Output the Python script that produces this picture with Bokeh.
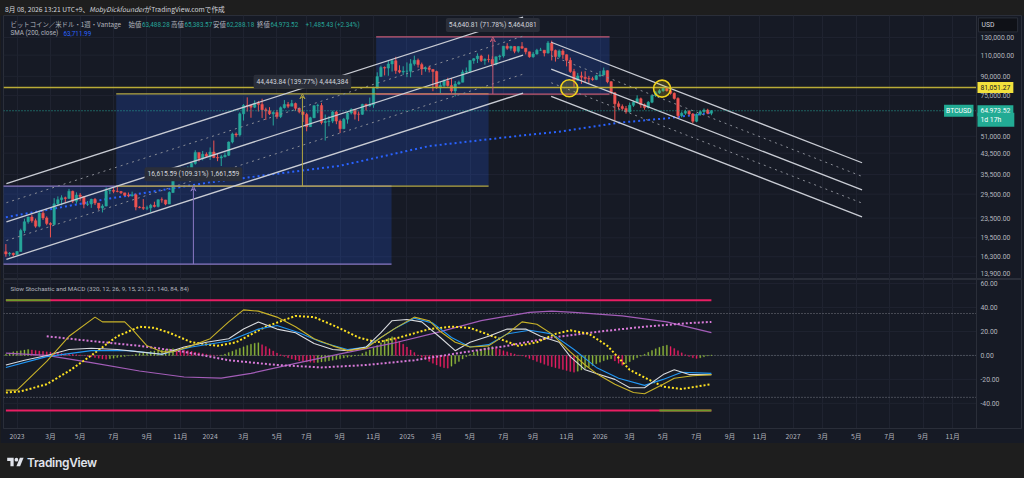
import pandas as pd
from bokeh.plotting import figure
from bokeh.models import (ColumnDataSource, Range1d, FixedTicker, NumeralTickFormatter,
                          Label, Arrow, VeeHead, Div)
from bokeh.layouts import column
from bokeh.embed import file_html
from bokeh.resources import INLINE

# ---------------- data (weekly candles, BTCUSD) ----------------
FIRST_WEEK = "2022-12-12"
FIRST_OPEN = 17100.0
LAST_OPEN = 63488.28
CLOSE = [16750, 16840, 16620, 17130, 20880, 22710, 23740, 22930, 21780, 24630,
         23550, 22350, 22140, 26900, 27990, 28470, 28330, 30300, 27590, 29230,
         28850, 26770, 26850, 28070, 27100, 25850, 26340, 30470, 30580, 30280,
         30230, 29850, 29200, 29050, 29300, 26100, 26000, 25800, 25900, 26530,
         26250, 27970, 27920, 26850, 29950, 34500, 35000, 37050, 37400, 37700,
         39450, 43800, 41350, 43000, 42250, 43950, 41750, 41550, 42000, 42600,
         48300, 52150, 51700, 63100, 68350, 68300, 67200, 69700, 69000, 65600,
         64900, 63100, 63900, 61500, 66900, 69000, 67800, 69600, 66500, 64300,
         62700, 55900, 60800, 68200, 68300, 58100, 58700, 58900, 64200, 58900,
         54800, 60000, 63600, 65800, 62900, 62800, 69000, 68000, 68700, 80400,
         89800, 97900, 97300, 101200, 104400, 95100, 93700, 94500, 94500, 101300,
         104800, 100600, 96500, 97600, 96100, 94200, 80700, 82600, 86100, 82500,
         78400, 83700, 85100, 93700, 94300, 104600, 106400, 109000, 104600, 105700,
         105600, 100900, 108400, 109200, 119800, 117400, 119400, 114200, 119300, 117500,
         113500, 108300, 111200, 115300, 115300, 112200, 123500, 115100, 108600, 114500,
         110500, 104700, 94200, 86800, 90400, 89300, 88200, 87900, 87400, 90500,
         91200, 95000, 85600, 77000, 69400, 67600, 66400, 64300, 68400, 70500,
         72800, 68800, 67000, 70400, 75000, 77000, 78500, 80300, 78600, 76600,
         73000, 62000, 63500, 64600, 63000, 58800, 62800, 64400, 65400, 63488.09,
         64973.52]
HIGH = [18380, 17050, 16950, 17180, 21260, 23370, 23800, 24250, 23400, 25250,
        25130, 23900, 22600, 28400, 28870, 29180, 28800, 31000, 30500, 30000,
        29800, 28000, 27650, 28250, 28450, 27000, 26800, 31400, 31300, 31350,
        31800, 30400, 29700, 29950, 30200, 29650, 26300, 28150, 26450, 26900,
        27450, 28050, 28600, 27950, 30300, 35200, 35900, 38000, 37950, 38400,
        39700, 44700, 43500, 44400, 43800, 45900, 49000, 43450, 42800, 43800,
        48600, 52800, 52900, 64000, 69200, 73750, 68900, 71700, 71300, 72800,
        66900, 67200, 64700, 65500, 67700, 71900, 70600, 72000, 70200, 66900,
        63300, 63700, 61400, 68400, 69400, 70000, 62700, 61800, 65000, 64900,
        59800, 60700, 64100, 66500, 66000, 64500, 69400, 69500, 73600, 81500,
        93500, 99600, 98900, 104000, 105200, 108300, 99900, 99000, 102700, 106000,
        109500, 106500, 102500, 98800, 99500, 96500, 95000, 85300, 87500, 88800,
        88500, 86100, 86400, 95800, 97900, 104900, 107100, 111900, 110400, 106800,
        110600, 108900, 108500, 110500, 119900, 123200, 120200, 119800, 119500, 124500,
        117600, 113600, 113400, 116800, 117900, 115400, 125700, 126200, 116000, 116000,
        116400, 110800, 107500, 96600, 93000, 94100, 94500, 90400, 89600, 91300,
        94700, 97800, 95200, 86000, 77500, 71000, 69000, 68000, 70200, 71500,
        75200, 73600, 69600, 71200, 75800, 78300, 79800, 81600, 81400, 79600,
        77300, 73800, 64500, 65600, 65400, 63600, 63400, 65100, 66400, 66200,
        65383.57]
LOW = [16300, 16400, 16330, 16550, 17120, 20400, 22300, 22500, 21450, 21530,
       23100, 21970, 19570, 21900, 26600, 26520, 27250, 28250, 27100, 26950,
       27700, 25800, 26350, 25900, 26600, 25400, 24800, 26250, 29500, 29750,
       30000, 29550, 29000, 28650, 28800, 25300, 25800, 25400, 25350, 24900,
       26000, 26000, 27200, 26550, 26900, 29800, 33900, 34500, 34800, 35700,
       36900, 39000, 40200, 40600, 41600, 40750, 41450, 40300, 38500, 41800,
       42300, 47700, 50600, 50900, 59200, 64500, 60800, 66600, 64500, 60700,
       59600, 62400, 56500, 60200, 60600, 66300, 66600, 68400, 64900, 63400,
       58400, 53500, 55700, 60600, 63500, 57100, 49000, 56100, 57800, 57200,
       52600, 54600, 57500, 62700, 59800, 58900, 62500, 65100, 67500, 66800,
       80300, 89400, 90800, 90500, 94200, 92200, 92600, 91200, 89300, 89200,
       99600, 97800, 91200, 94100, 93400, 78200, 80000, 76600, 81200, 81600,
       77100, 74400, 83100, 85100, 92800, 93400, 101400, 102100, 103100, 100400,
       102700, 98200, 100000, 105100, 107500, 115700, 114700, 112000, 112600, 116800,
       110800, 107400, 107300, 110600, 114400, 108700, 111600, 104600, 103500, 106900,
       106300, 98900, 93000, 80600, 86100, 83800, 85000, 84500, 86300, 86800,
       89500, 90600, 84300, 75800, 59200, 65700, 65000, 63200, 63800, 67400,
       69800, 66800, 65600, 66300, 69800, 74000, 76200, 77800, 77900, 75700,
       72200, 60600, 61000, 62500, 62200, 57600, 58300, 62000, 63600, 62900,
       62288.18]

# SMA(200) read at some weeks (week index, value)
SMA_WEEK = [0, 28, 55, 90, 114, 138, 150, 165, 178, 190]
SMA_VALUE = [23700, 28300, 33000, 38600, 46500, 51200, 53500, 58000, 60500, 63711.99]

PRICE_TICKS = [13900, 16300, 19500, 23500, 29500, 35500, 43500, 51000, 75000, 90000, 110000, 130000]
IND_TICKS = [-40, -20, 0, 20, 40, 60]

TIME_TICKS = ["2023-01-02", "2023-03-06", "2023-05-01", "2023-07-03", "2023-09-04", "2023-11-06",
              "2024-01-01", "2024-03-04", "2024-05-06", "2024-07-01", "2024-09-02", "2024-11-04",
              "2025-01-06", "2025-03-03", "2025-05-05", "2025-07-07", "2025-09-01", "2025-11-03",
              "2026-01-05", "2026-03-02", "2026-05-04", "2026-07-06", "2026-09-07", "2026-11-02",
              "2027-01-04", "2027-03-01", "2027-05-03", "2027-07-05", "2027-09-06", "2027-11-01"]
TIME_LABELS = ["2023", "3月", "5月", "7月", "9月", "11月",
               "2024", "3月", "5月", "7月", "9月", "11月",
               "2025", "3月", "5月", "7月", "9月", "11月",
               "2026", "3月", "5月", "7月", "9月", "11月",
               "2027", "3月", "5月", "7月", "9月", "11月"]

# price-range measurement boxes
BOX_START = ["2022-11-22", "2023-07-08", "2024-11-09"]
BOX_END = ["2024-12-08", "2025-06-09", "2026-01-23"]
BOX_LOW = [15200.5, 31798.0, 76123.0]
BOX_HIGH = [31816.1, 76242.0, 130764.0]
BOX_TEXT = ["16,615.59 (109.31%) 1,661,559", "44,443.84 (139.77%) 4,444,384",
            "54,640.81 (71.78%) 5,464,081"]
BOX_COLOR = ["#8a78c4", "#b3a640", "#c45a74"]

# parallel channels (5 lines each: solid, dotted, solid, dotted, solid)
UP_START, UP_END = "2022-12-13", "2025-08-13"
UP_P0 = [32600, 27200, 22700, 19000, 15900]
UP_P1 = [157600, 131700, 110000, 91900, 76800]
DN_START, DN_END = "2025-10-05", "2027-05-14"
DN_P0 = [124300, 109400, 96300, 84700, 74500]
DN_P1 = [39700, 34900, 30700, 27100, 23800]
CH_DASH = ["solid", "dotted", "solid", "dotted", "solid"]

LEVEL = 81051.27
LAST_PRICE = 64973.52
MARK_DATE = ["2025-11-08", "2026-05-02"]
MARK_PRICE = [80400, 80100]

# Slow Stochastic and MACD pane (week index / value)
YS_W = [0, 3, 11, 17, 24, 26, 32, 34, 38, 42, 45, 50, 55, 60, 64, 68, 73, 78, 83, 88, 92, 97, 101, 105,
        110, 114, 117, 121, 125, 130, 135, 139, 143, 147, 152, 156, 159, 164, 169, 172, 177, 180, 185, 190]
YS_V = [-29, -29, -5, 16, 32, 28, 28, 22, 8, 3, 3, 8, 14, 28, 38, 37, 32, 24, 14, 8, 4, 6, 15, 23,
        32, 29, 20, 11, 7, 8, 18, 28, 26, 18, 3, -8, -15, -24, -31, -32, -24, -19, -17, -16]
WH_W = [0, 5, 11, 17, 23, 30, 36, 42, 48, 54, 60, 64, 68, 73, 78, 83, 88, 92, 97, 101, 104, 108, 112,
        117, 121, 125, 130, 135, 140, 144, 149, 152, 156, 159, 164, 168, 172, 177, 180, 184, 190]
WH_V = [-8, -4, 0, 5, 6, 5, 3, 1, 7, 11, 14, 22, 28, 22, 19, 10, 5, 4, 7, 19, 29, 30, 28,
        15, 4, 11, 16, 22, 22, 16, 11, -1, -12, -15, -20, -27, -27, -16, -12, -16, -16]
BL_W = [0, 11, 23, 33, 42, 50, 60, 68, 73, 79, 85, 92, 97, 105, 110, 115, 120, 125, 130, 135, 141,
        147, 153, 159, 165, 172, 177, 182, 190]
BL_V = [-10, -1, 4, 4, 1, 7, 12, 22, 25, 19, 11, 5, 7, 23, 31, 27, 15, 7, 9, 18, 21,
        18, 5, -10, -19, -25, -20, -14, -15]
YD_W = [0, 4, 11, 17, 23, 30, 36, 40, 44, 50, 57, 62, 70, 78, 83, 89, 95, 100, 106, 114, 120, 125,
        132, 138, 143, 148, 152, 157, 162, 168, 173, 177, 182, 190]
YD_V = [-31, -30, -24, -13, 0, 16, 24, 23, 19, 11, 8, 11, 24, 33, 32, 24, 15, 11, 15, 22, 24, 23,
        15, 8, 11, 18, 21, 18, 8, -12, -20, -26, -28, -24]
PD_W = [11, 23, 36, 48, 60, 73, 85, 97, 110, 122, 135, 147, 160, 172, 184, 190]
PD_V = [16, 12, 8, 3, -4, -8, -10, -8, -4, 2, 8, 15, 20, 24, 27, 28]
PU_W = [0, 11, 23, 36, 48, 58, 66, 79, 91, 104, 116, 128, 141, 147, 153, 166, 178, 190]
PU_V = [2, 0, -6, -13, -18, -19, -15, -6, 2, 10, 19, 29, 36, 37, 36, 33, 28, 19]
HIST = [1.0, 2.0, 3.0, 3.5, 4.0, 4.5, 5.0, 4.6, 4.2, 3.8,
        3.4, 3.0, 2.8, 2.5, 2.2, 1.8, 1.5, 1.2, 0.9, 0.6,
        0.3, 0.0, -0.6, -1.2, -1.8, -2.4, -3.0, -3.2, -2.8, -2.3,
        -1.8, -1.3, -0.8, -0.3, 0.4, 1.0, 1.6, 2.2, 2.8, 3.4,
        3.8, 4.2, 4.6, 5.0, 5.4, 5.6, 5.2, 4.8, 4.4, 4.0,
        3.4, 2.8, 2.2, 1.6, 1.0, 0.5, 0.2, 0.0, 0.4, 1.2,
        2.4, 3.6, 4.8, 6.0, 7.2, 8.4, 9.4, 10.2, 10.6, 9.0,
        7.4, 5.6, 3.8, 2.0, 0.6, -0.8, -2.0, -3.0, -3.8, -4.5,
        -5.0, -5.4, -5.7, -6.0, -5.8, -5.4, -5.0, -4.5, -4.0, -3.4,
        -2.8, -2.2, -1.6, -1.0, -0.4, 0.4, 1.6, 3.0, 4.6, 6.4,
        8.4, 10.6, 12.8, 14.6, 15.6, 14.0, 11.8, 9.4, 7.0, 4.6,
        2.4, 0.4, -1.6, -3.4, -5.0, -6.6, -8.0, -9.2, -10.2, -10.6,
        -9.0, -7.0, -5.0, -3.0, -1.0, 1.0, 2.6, 4.0, 5.2, 6.2,
        7.0, 7.4, 6.4, 5.2, 4.0, 3.0, 2.0, 1.2, 0.4, -0.4,
        -1.4, -2.6, -3.8, -5.0, -6.2, -7.4, -8.4, -9.4, -10.2, -11.0,
        -11.8, -12.6, -13.4, -14.0, -13.2, -12.2, -11.0, -9.8, -8.4, -7.0,
        -5.6, -4.4, -3.4, -2.8, -4.6, -6.6, -8.2, -6.8, -5.2, -3.6,
        -2.0, -0.6, 1.0, 2.6, 4.2, 5.6, 6.8, 7.8, 8.6, 7.4,
        5.8, 4.0, 2.2, 0.6, -0.8, -2.0, -2.6, -2.0, -1.2, -0.4,
        0.4]
BAND_LEVEL = [46, -46]
TOP_GREEN_WEEKS = [0, 12]      # top band green part
BOT_GREEN_WEEKS = [176, 190]   # bottom band green part
DOT_LEVELS = [35, 0, -35]

# ---------------- styling ----------------
BG = "#161a25"
FRAME = "#1e1e1e"
GRID = "#1f2330"
SEP = "#2a2e39"
TXT = "#b2b5be"
UP = "#26a69a"
DOWN = "#ef5350"
JP = "Noto Sans CJK JP"
W = 1024
DAY = 86400000.0


def ms(d):
    return pd.Timestamp(d).value / 1e6


def wk(i):
    return ms(pd.Timestamp(FIRST_WEEK) + pd.Timedelta(days=7 * i))


X0 = ms("2022-12-07 12:00")       # left edge of the panes
XA = ms("2027-12-15 17:00")       # position of the price scale
XE = ms("2028-03-09 14:00")       # right edge (end of the price-scale strip)
tt = [int(ms(d)) for d in TIME_TICKS]
overrides = {t: lab for t, lab in zip(tt, TIME_LABELS)}


def style_axis(a, font):
    a.major_label_text_font_size = "6.8px"
    a.major_label_text_color = TXT
    a.major_label_text_font = font
    a.major_tick_line_color = None
    a.minor_tick_line_color = None
    a.major_tick_out = 0
    a.major_tick_in = 0
    a.minor_tick_out = 0
    a.minor_tick_in = 0
    a.axis_line_color = SEP


def lab(fig, x, y, text, color=TXT, size="6.4px", font=JP, align="left", xu="screen", yu="screen", **kw):
    fig.add_layout(Label(x=x, y=y, x_units=xu, y_units=yu, text=text,
                         text_color=color, text_font_size=size, text_font=font,
                         text_align=align, text_baseline="middle", **kw))


# ---------------- price pane ----------------
p = figure(width=W, height=264, x_range=Range1d(X0, XE), y_range=Range1d(13141, 160150),
           x_axis_type="datetime", y_axis_type="log", x_axis_location=None, y_axis_location="right",
           toolbar_location=None, output_backend="svg",
           min_border_left=3, min_border_right=3, min_border_top=0, min_border_bottom=0)
p.background_fill_color = BG
p.border_fill_color = BG
p.outline_line_color = SEP
p.xgrid.ticker = FixedTicker(ticks=tt)
p.xgrid.grid_line_color = GRID
p.ygrid.visible = False
ax = p.yaxis[0]
ax.fixed_location = XA
ax.ticker = FixedTicker(ticks=PRICE_TICKS)
ax.formatter = NumeralTickFormatter(format="0,0.00")
style_axis(ax, "Roboto")
ax.major_label_standoff = 4

# horizontal grid up to the price scale
p.segment(x0=[X0] * len(PRICE_TICKS), x1=[XA] * len(PRICE_TICKS), y0=PRICE_TICKS, y1=PRICE_TICKS,
          line_color=GRID, line_width=1)

# boxes
for s, e, lo, hi in zip(BOX_START, BOX_END, BOX_LOW, BOX_HIGH):
    p.quad(left=[ms(s)], right=[ms(e)], bottom=[lo], top=[hi], fill_color="#2962ff",
           fill_alpha=0.2, line_color=None)

# SMA 200
p.line([wk(i) for i in SMA_WEEK], SMA_VALUE, line_color="#2962ff", line_width=2, line_dash="2 3")

# candles
dates = pd.date_range(FIRST_WEEK, periods=len(CLOSE), freq="7D")
opens = [FIRST_OPEN] + CLOSE[:-1]
opens[-1] = LAST_OPEN
src = ColumnDataSource(dict(
    t=[ms(d) for d in dates], h=HIGH, l=LOW,
    top=[max(o, c) for o, c in zip(opens, CLOSE)],
    bot=[min(o, c) for o, c in zip(opens, CLOSE)],
    col=[UP if c >= o else DOWN for o, c in zip(opens, CLOSE)]))
p.segment("t", "h", "t", "l", source=src, line_color="col", line_width=1)
p.vbar(x="t", top="top", bottom="bot", width=7 * DAY * 0.66, source=src,
       fill_color="col", line_color="col", line_width=0.5)

# box borders, arrows, labels
for s, e, lo, hi, colr, txt in zip(BOX_START, BOX_END, BOX_LOW, BOX_HIGH, BOX_COLOR, BOX_TEXT):
    p.segment(x0=[ms(s), ms(s)], y0=[lo, hi], x1=[ms(e), ms(e)], y1=[lo, hi],
              line_color=colr, line_width=1.3)
    mid = (ms(s) + ms(e)) / 2
    p.add_layout(Arrow(end=VeeHead(size=5, line_color=colr, line_width=1, fill_alpha=0),
                       x_start=mid, y_start=lo, x_end=mid, y_end=hi,
                       line_color=colr, line_width=1))
    p.add_layout(Label(x=mid, y=hi, y_offset=12, text=txt, text_align="center",
                       text_baseline="middle", text_font_size="6.7px", text_font="Roboto",
                       text_color="#d1d4dc", background_fill_color="#2a2e39", padding=3,
                       border_radius=2))

# channels
for p0, p1, dash in zip(UP_P0, UP_P1, CH_DASH):
    p.line([ms(UP_START), ms(UP_END)], [p0, p1], line_color="#c9ccd4" if dash == "solid" else "#8a8d96",
           line_width=1.3 if dash == "solid" else 1, line_dash=dash)
for p0, p1, dash in zip(DN_P0, DN_P1, CH_DASH):
    p.line([ms(DN_START), ms(DN_END)], [p0, p1], line_color="#c9ccd4" if dash == "solid" else "#8a8d96",
           line_width=1.3 if dash == "solid" else 1, line_dash=dash)

p.line([X0, XA], [LEVEL, LEVEL], line_color="#b9ab37", line_width=1.5)
p.line([X0, XA], [LAST_PRICE, LAST_PRICE], line_color=UP, line_width=1, line_dash="1 2")
p.scatter([ms(d) for d in MARK_DATE], MARK_PRICE, size=17, fill_color="#f5d90a", fill_alpha=0.18,
          line_color="#f0d21b", line_width=1.6)

# legend texts (screen units, from the pane's lower-left corner)
row1 = 255.0
row2 = 246.5
NUM = "6.3px"
lab(p, 7, row1, "ビットコイン／米ドル・1週・Vantage")
lab(p, 125, row1, "始値")
lab(p, 138.5, row1, "63,488.28", color=UP, font="Roboto", size=NUM)
lab(p, 167.5, row1, "高値")
lab(p, 181, row1, "65,383.57", color=UP, font="Roboto", size=NUM)
lab(p, 209.5, row1, "安値")
lab(p, 223, row1, "62,288.18", color=UP, font="Roboto", size=NUM)
lab(p, 253.5, row1, "終値")
lab(p, 267, row1, "64,973.52", color=UP, font="Roboto", size=NUM)
lab(p, 302, row1, "+1,485.43 (+2.34%)", color=UP, font="Roboto", size=NUM)
lab(p, 7, row2, "SMA (200, close)", font="Roboto", size=NUM)
lab(p, 60, row2, "63,711.99", color="#2962ff", font="Roboto", size=NUM)

# price-scale labels
NB = "\u00a0"
lab(p, XA, 146500, "USD" + NB * 12, color="#d1d4dc", size="6.8px", font="Roboto", xu="data", yu="data",
    x_offset=2, background_fill_color="#0f1117", border_line_color=SEP, padding=3)
lab(p, XA, LEVEL, "81,051.27", color="#131722", size="6.8px", font="Roboto", xu="data", yu="data",
    x_offset=1, background_fill_color="#f2e13c", padding=3)
lab(p, XA, LAST_PRICE, "64,973.52", color="#ffffff", size="6.8px", font="Roboto", xu="data", yu="data",
    x_offset=1, background_fill_color="#22ab94", padding=3)
lab(p, XA, LAST_PRICE, "1d 17h" + NB * 6, color="#ffffff", size="6.8px", font="Roboto", xu="data",
    yu="data", x_offset=1, y_offset=-9, background_fill_color="#22ab94", padding=3)
lab(p, XA, LAST_PRICE, "BTCUSD", color="#ffffff", size="6.8px", font="Roboto", align="right",
    xu="data", yu="data", x_offset=-3, background_fill_color="#22ab94", padding=2)

# ---------------- indicator pane ----------------
q = figure(width=W, height=164, x_range=p.x_range, y_range=Range1d(-61.0, 63.4),
           x_axis_type="datetime", y_axis_location="right", toolbar_location=None,
           output_backend="svg", min_border_left=3, min_border_right=3,
           min_border_top=0, min_border_bottom=11)
q.background_fill_color = BG
q.border_fill_color = BG
q.outline_line_color = SEP
q.xgrid.ticker = FixedTicker(ticks=tt)
q.xgrid.grid_line_color = GRID
q.ygrid.visible = False
qa = q.yaxis[0]
qa.fixed_location = XA
qa.ticker = FixedTicker(ticks=IND_TICKS)
qa.formatter = NumeralTickFormatter(format="0.00")
style_axis(qa, "Roboto")
qa.major_label_standoff = 4
xa = q.xaxis[0]
xa.ticker = FixedTicker(ticks=tt)
xa.major_label_overrides = overrides
style_axis(xa, JP)
xa.major_label_standoff = 2

q.segment(x0=[X0] * len(IND_TICKS), x1=[XA] * len(IND_TICKS), y0=IND_TICKS, y1=IND_TICKS,
          line_color=GRID, line_width=1)
q.segment(x0=[X0] * len(DOT_LEVELS), x1=[XA] * len(DOT_LEVELS), y0=DOT_LEVELS, y1=DOT_LEVELS,
          line_color="#787b86", line_width=1, line_dash="1 2")

hcol = ["#8fb83a" if i == 0 or HIST[i] > HIST[i - 1] else "#e91e63" for i in range(len(HIST))]
q.vbar(x=[wk(i) for i in range(len(HIST))], top=HIST, bottom=0, width=7 * DAY * 0.3,
       fill_color=hcol, line_color=hcol, line_width=0.3)

q.line([wk(i) for i in PU_W], PU_V, line_color="#a35db8", line_width=1.2)
q.line([wk(i) for i in PD_W], PD_V, line_color="#d97ad9", line_width=2, line_dash="2 2")
q.line([wk(i) for i in YD_W], YD_V, line_color="#ffe321", line_width=2, line_dash="2 2")
q.line([wk(i) for i in BL_W], BL_V, line_color="#2196f3", line_width=1.1)
q.line([wk(i) for i in WH_W], WH_V, line_color="#d8dade", line_width=1.1)
q.line([wk(i) for i in YS_W], YS_V, line_color="#c8b229", line_width=1.1)

q.line([wk(0), wk(190)], [BAND_LEVEL[0]] * 2, line_color="#e91e63", line_width=2)
q.line([wk(TOP_GREEN_WEEKS[0]), wk(TOP_GREEN_WEEKS[1])], [BAND_LEVEL[0]] * 2,
       line_color="#6d9b2a", line_width=2)
q.line([wk(0), wk(190)], [BAND_LEVEL[1]] * 2, line_color="#e91e63", line_width=2)
q.line([wk(BOT_GREEN_WEEKS[0]), wk(BOT_GREEN_WEEKS[1])], [BAND_LEVEL[1]] * 2,
       line_color="#6d9b2a", line_width=2)

lab(q, 7, 55.3, "Slow Stochastic and MACD (320, 12, 26, 9, 15, 21, 21, 140, 84, 84)",
    size="6.2px", font="Roboto", yu="data")

# ---------------- header / footer ----------------
header = Div(text=('<div style="font-family:\'Noto Sans CJK JP\';font-size:6.7px;color:#d1d4dc;'
                   'line-height:15px;padding-left:5px;white-space:nowrap;">'
                   '8月 08, 2026 13:21 UTC+9、<i>MobyDickfounder</i>がTradingView.comで作成</div>'),
             width=W, height=15, margin=0, styles={"background-color": FRAME})
logo = ('<svg width="17" height="12" viewBox="0 0 36 26" style="vertical-align:-1px;margin-right:3px">'
        '<path d="M14 22H7V11H0V4h14v18z" fill="#e0e3eb"/><circle cx="20" cy="8" r="4" fill="#e0e3eb"/>'
        '<path d="M28 22h-8l7.5-18h8z" fill="#e0e3eb"/></svg>')
footer = Div(text=('<div style="padding-left:7px;padding-top:13px;font-family:Inter;font-weight:600;'
                   'font-size:12px;color:#e0e3eb;letter-spacing:-0.3px;line-height:14px;">'
                   + logo + 'TradingView</div>'),
             width=W, height=35, margin=0, styles={"background-color": FRAME})

layout = column(header, p, q, footer, spacing=0, styles={"background-color": FRAME})
open("out.html", "w").write(file_html(layout, INLINE))
